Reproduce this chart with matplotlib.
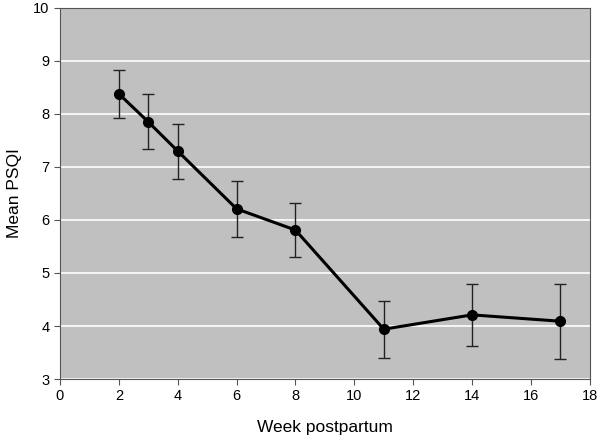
import matplotlib
matplotlib.use('Agg')
import matplotlib.pyplot as plt

plt.rcParams['font.family'] = ['Liberation Sans', 'DejaVu Sans']

# data
weeks = [2, 3, 4, 6, 8, 11, 14, 17]
mean_psqi = [8.38, 7.85, 7.30, 6.21, 5.81, 3.94, 4.21, 4.09]
err = [0.45, 0.52, 0.52, 0.53, 0.51, 0.54, 0.59, 0.71]

fig = plt.figure(figsize=(6, 4.42), dpi=100)
ax = fig.add_axes([0.1, 0.1425, 0.883, 0.8395])
ax.set_facecolor('#c0c0c0')

ax.errorbar(weeks, mean_psqi, yerr=err, color='black', lw=2.2, marker='o', ms=7,
            ecolor='#222222', elinewidth=1, capsize=4, capthick=1, zorder=3)

ax.set_xlim(0, 18)
ax.set_ylim(3, 10)
ax.set_xticks(range(0, 19, 2))
ax.set_yticks(range(3, 11))
ax.yaxis.grid(True, color='white', lw=1.2)
ax.set_axisbelow(True)
for s in ax.spines.values():
    s.set_color('#555555')
ax.tick_params(labelsize=10.5, color='#555555', length=4, direction='out')
ax.set_xlabel('Week postpartum', fontsize=12.5, labelpad=12)
ax.set_ylabel('Mean PSQI', fontsize=12.5, labelpad=8)

fig.savefig('out.png', dpi=100, facecolor='white')
